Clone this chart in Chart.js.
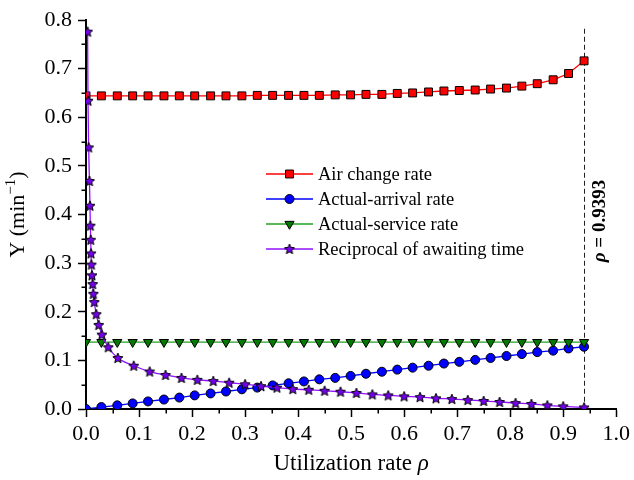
<!DOCTYPE html>
<html>
<head>
<meta charset="utf-8">
<script src="https://cdn.jsdelivr.net/npm/chart.js@4.4.1/dist/chart.umd.min.js"></script>
<style>
  html, body { margin: 0; padding: 0; background: #fff; }
  canvas { display: block; }
</style>
</head>
<body>
<canvas id="chart" width="634" height="480"></canvas>
<script>
// utilization rate grid shared by the first three series
const rhoGrid = [0, 0.029, 0.059, 0.088, 0.117, 0.147, 0.176, 0.205, 0.235, 0.264, 0.294,
  0.323, 0.352, 0.382, 0.411, 0.440, 0.470, 0.499, 0.528, 0.558, 0.587, 0.616, 0.646,
  0.675, 0.704, 0.734, 0.763, 0.793, 0.822, 0.851, 0.881, 0.910, 0.9393];

const airChange = [0.644, 0.644, 0.644, 0.644, 0.644, 0.644, 0.644, 0.644, 0.644, 0.644, 0.644,
  0.645, 0.645, 0.645, 0.645, 0.645, 0.646, 0.646, 0.647, 0.647, 0.649, 0.650, 0.652,
  0.654, 0.655, 0.656, 0.658, 0.660, 0.664, 0.669, 0.677, 0.690, 0.716];

const arrival = [0, 0.004, 0.0075, 0.0115, 0.0156, 0.0195, 0.0235, 0.028, 0.032, 0.036, 0.0405,
  0.044, 0.0485, 0.0528, 0.0567, 0.061, 0.064, 0.068, 0.0725, 0.0767, 0.081, 0.085, 0.089,
  0.0935, 0.097, 0.101, 0.105, 0.109, 0.113, 0.117, 0.120, 0.1245, 0.128];

const service = [0.1375, 0.1375, 0.1375, 0.1375, 0.1375, 0.1375, 0.1375, 0.1375, 0.1375, 0.1375, 0.1375,
  0.1375, 0.1375, 0.1375, 0.1375, 0.1375, 0.1375, 0.1375, 0.1375, 0.1375, 0.1375, 0.1375, 0.1375,
  0.1375, 0.1375, 0.1375, 0.1375, 0.1375, 0.1375, 0.1375, 0.1375, 0.1375, 0.1375];

// reciprocal of awaiting time has its own (denser near zero) grid
const starRho = [0.003, 0.0038, 0.005, 0.0065, 0.0075, 0.0082, 0.0089, 0.0095, 0.0102, 0.0113,
  0.0126, 0.0138, 0.0156, 0.0194, 0.024, 0.03, 0.042, 0.06, 0.09, 0.12, 0.15, 0.18, 0.21,
  0.24, 0.27, 0.30, 0.33, 0.36, 0.39, 0.42, 0.45, 0.48, 0.51, 0.54, 0.57, 0.60, 0.63, 0.66,
  0.69, 0.72, 0.75, 0.78, 0.81, 0.84, 0.87, 0.90, 0.9393];
const reciprocal = [0.776, 0.634, 0.538, 0.469, 0.418, 0.377, 0.348, 0.320, 0.297, 0.275,
  0.257, 0.237, 0.220, 0.195, 0.173, 0.153, 0.127, 0.105, 0.089, 0.077, 0.070, 0.064, 0.060,
  0.0575, 0.054, 0.051, 0.047, 0.044, 0.041, 0.0395, 0.0375, 0.0355, 0.033, 0.030, 0.028, 0.026,
  0.0245, 0.022, 0.0205, 0.0185, 0.0165, 0.0145, 0.0123, 0.0103, 0.0075, 0.0055, 0.0033];

const seriesNames = ['Air change rate', 'Actual-arrival rate', 'Actual-service rate', 'Reciprocal of awaiting time'];
const xTicks = [0, 0.1, 0.2, 0.3, 0.4, 0.5, 0.6, 0.7, 0.8, 0.9, 1.0];
const yTicks = [0, 0.1, 0.2, 0.3, 0.4, 0.5, 0.6, 0.7, 0.8];
const criticalRho = 0.9393;
const criticalTop = 0.782;

const SERIF = '"Liberation Serif", "Times New Roman", serif';

function zip(xs, ys) { return xs.map((x, i) => ({ x: x, y: ys[i] })); }

function makeStar(r, fill) {
    const size = Math.ceil(r * 2 + 3);
    const c = document.createElement('canvas');
    c.width = c.height = size;
    const g = c.getContext('2d');
    const cx = size / 2, cy = size / 2 + 0.4;
    g.beginPath();
    for (let k = 0; k < 10; k++) {
        const rr = k % 2 ? r * 0.46 : r;
        const a = -Math.PI / 2 + k * Math.PI / 5;
        g.lineTo(cx + rr * Math.cos(a), cy + rr * Math.sin(a));
    }
    g.closePath();
    g.fillStyle = fill;
    g.fill();
    g.strokeStyle = '#000';
    g.lineWidth = 1;
    g.stroke();
    return c;
}
const starImg = makeStar(5.3, '#7300ea');

// legend markers, mirrors the dataset point styles
function drawMarker(ctx, ds, x, y) {
    const style = ds.pointStyle;
    if (style === starImg) {
        ctx.drawImage(starImg, x - starImg.width / 2, y - starImg.height / 2);
        return;
    }
    const r = ds.pointRadius;
    ctx.save();
    ctx.fillStyle = ds.pointBackgroundColor;
    ctx.strokeStyle = '#000';
    ctx.lineWidth = 1;
    ctx.beginPath();
    if (style === 'rect') {
        const s = Math.SQRT1_2 * r;
        ctx.rect(x - s, y - s, 2 * s, 2 * s);
    } else if (style === 'circle') {
        ctx.arc(x, y, r, 0, Math.PI * 2);
    } else if (style === 'triangle') {
        ctx.moveTo(x, y + r);
        ctx.lineTo(x - r * Math.sin(Math.PI / 3), y - r / 2);
        ctx.lineTo(x + r * Math.sin(Math.PI / 3), y - r / 2);
        ctx.closePath();
    }
    ctx.fill();
    ctx.stroke();
    ctx.restore();
}

const decorPlugin = {
    id: 'decor',
    beforeDatasetsDraw(chart) {
        const { ctx, scales: { x, y } } = chart;
        const px = Math.round(x.getPixelForValue(criticalRho)) + 0.5;
        ctx.save();
        ctx.strokeStyle = '#222';
        ctx.lineWidth = 1;
        ctx.setLineDash([5, 3]);
        ctx.beginPath();
        ctx.moveTo(px, y.getPixelForValue(criticalTop));
        ctx.lineTo(px, y.getPixelForValue(0));
        ctx.stroke();
        ctx.restore();
    },
    afterDraw(chart) {
        const { ctx, chartArea, scales: { x, y } } = chart;
        ctx.save();
        // minor ticks
        ctx.strokeStyle = '#000';
        ctx.lineWidth = 1.5;
        ctx.beginPath();
        for (let i = 0; i < xTicks.length - 1; i++) {
            const px = Math.round(x.getPixelForValue((xTicks[i] + xTicks[i + 1]) / 2)) + 0.25;
            ctx.moveTo(px, chartArea.bottom);
            ctx.lineTo(px, chartArea.bottom + 4.5);
        }
        for (let i = 0; i < yTicks.length - 1; i++) {
            const py = Math.round(y.getPixelForValue((yTicks[i] + yTicks[i + 1]) / 2)) + 0.25;
            ctx.moveTo(chartArea.left, py);
            ctx.lineTo(chartArea.left - 4.5, py);
        }
        ctx.stroke();

        ctx.fillStyle = '#000';
        // x axis title
        ctx.textBaseline = 'middle';
        ctx.font = '23px ' + SERIF;
        const t1 = 'Utilization rate ';
        const w1 = ctx.measureText(t1).width;
        ctx.font = 'italic 23px ' + SERIF;
        const w2 = ctx.measureText('\u03c1').width;
        const cx = (chartArea.left + chartArea.right) / 2;
        let sx = cx - (w1 + w2) / 2;
        const ty = 464;
        ctx.font = '23px ' + SERIF;
        ctx.textAlign = 'left';
        ctx.fillText(t1, sx, ty);
        ctx.font = 'italic 23px ' + SERIF;
        ctx.fillText('\u03c1', sx + w1, ty);

        // y axis title
        ctx.save();
        ctx.translate(18, (chartArea.top + chartArea.bottom) / 2);
        ctx.rotate(-Math.PI / 2);
        const a = 'Y (min', c = ')';
        ctx.font = '15px ' + SERIF;
        const sup = '\u22121';
        const ws = ctx.measureText(sup).width;
        ctx.font = '22px ' + SERIF;
        const wa = ctx.measureText(a).width, wc = ctx.measureText(c).width;
        let ox = -(wa + ws + wc) / 2;
        ctx.fillText(a, ox, 0);
        ctx.font = '15px ' + SERIF;
        ctx.fillText(sup, ox + wa, -7);
        ctx.font = '22px ' + SERIF;
        ctx.fillText(c, ox + wa + ws, 0);
        ctx.restore();

        // critical rho label
        ctx.save();
        ctx.translate(x.getPixelForValue(criticalRho) + 16, 221);
        ctx.rotate(-Math.PI / 2);
        ctx.textAlign = 'left';
        ctx.font = 'bold italic 19px ' + SERIF;
        const r1 = '\u03c1';
        const wr = ctx.measureText(r1).width;
        ctx.font = 'bold 19px ' + SERIF;
        const r2 = ' = ' + criticalRho.toFixed(4);
        const wr2 = ctx.measureText(r2).width;
        const ox2 = -(wr + wr2) / 2;
        ctx.font = 'bold italic 19px ' + SERIF;
        ctx.fillText(r1, ox2, 0);
        ctx.font = 'bold 19px ' + SERIF;
        ctx.fillText(r2, ox2 + wr, 0);
        ctx.restore();

        // legend
        const legendOrder = [0, 1, 2, 3];
        const lx0 = 266, lx1 = 313, tx = 318, ly0 = 174, dy = 25;
        ctx.font = '18.5px ' + SERIF;
        ctx.textAlign = 'left';
        ctx.textBaseline = 'middle';
        legendOrder.forEach((di, k) => {
            const ds = chart.data.datasets[di];
            const ly = ly0 + k * dy;
            ctx.strokeStyle = ds.borderColor;
            ctx.lineWidth = ds.borderWidth;
            ctx.beginPath();
            ctx.moveTo(lx0, ly);
            ctx.lineTo(lx1, ly);
            ctx.stroke();
            drawMarker(ctx, ds, (lx0 + lx1) / 2, ly);
            ctx.fillStyle = '#000';
            ctx.fillText(seriesNames[di], tx, ly + 1);
        });
        ctx.restore();
    }
};

const ctx = document.getElementById('chart');
new Chart(ctx, {
    type: 'scatter',
    data: {
        datasets: [
            {
                label: seriesNames[0], data: zip(rhoGrid, airChange), showLine: true, order: 3,
                borderColor: '#ff0000', borderWidth: 1.3,
                pointStyle: 'rect', pointRadius: 5.6, pointBackgroundColor: '#ff0000',
                pointBorderColor: '#000', pointBorderWidth: 1
            },
            {
                label: seriesNames[1], data: zip(rhoGrid, arrival), showLine: true, order: 2,
                borderColor: '#0000ff', borderWidth: 1.3,
                pointStyle: 'circle', pointRadius: 4.5, pointBackgroundColor: '#0000ff',
                pointBorderColor: '#000', pointBorderWidth: 1
            },
            {
                label: seriesNames[2], data: zip(rhoGrid, service), showLine: true, order: 1,
                borderColor: '#22a022', borderWidth: 1.3,
                pointStyle: 'triangle', rotation: 180, pointRadius: 5.3, pointBackgroundColor: '#007a00',
                pointBorderColor: '#000', pointBorderWidth: 1
            },
            {
                label: seriesNames[3], data: zip(starRho, reciprocal), showLine: true, order: 0,
                borderColor: '#9010ff', borderWidth: 1.3, cubicInterpolationMode: 'monotone',
                pointStyle: starImg, pointRadius: 5
            }
        ]
    },
    options: {
        responsive: false,
        animation: false,
        devicePixelRatio: 1,
        layout: { padding: { top: 20, right: 17, left: 0, bottom: 0 } },
        plugins: { legend: { display: false }, tooltip: { enabled: false } },
        scales: {
            x: {
                type: 'linear', min: 0, max: 1,
                afterFit: s => { s.height = 71; },
                afterBuildTicks: s => { s.ticks = xTicks.map(v => ({ value: v })); },
                ticks: {
                    color: '#000', padding: 4, maxRotation: 0,
                    font: { family: SERIF, size: 22 },
                    callback: v => v.toFixed(1)
                },
                grid: { drawOnChartArea: false, drawTicks: true, tickLength: 8, tickColor: '#000', tickWidth: 1.5 },
                border: { display: true, color: '#000', width: 2 }
            },
            y: {
                type: 'linear', min: 0, max: 0.8,
                afterFit: s => { s.width = 86; },
                afterBuildTicks: s => { s.ticks = yTicks.map(v => ({ value: v })); },
                ticks: {
                    color: '#000', padding: 6,
                    font: { family: SERIF, size: 22 },
                    callback: v => v.toFixed(1)
                },
                grid: { drawOnChartArea: false, drawTicks: true, tickLength: 8, tickColor: '#000', tickWidth: 1.5 },
                border: { display: true, color: '#000', width: 2 }
            }
        }
    },
    plugins: [decorPlugin]
});
</script>
</body>
</html>
